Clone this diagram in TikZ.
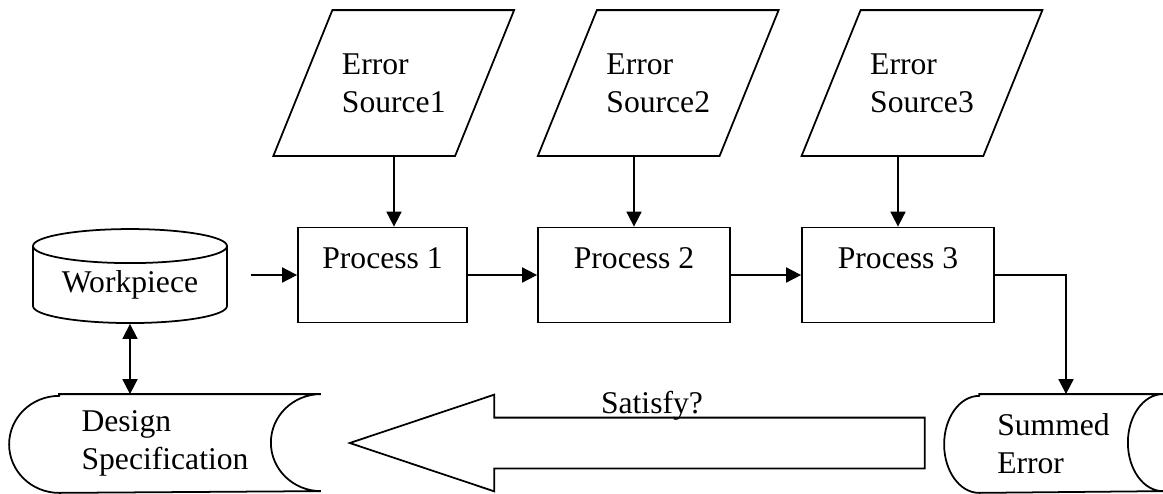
\documentclass[tikz,border=0pt]{standalone}
\usepackage{fontspec}
\setmainfont{Liberation Serif}
\usetikzlibrary{shapes.geometric,shapes.arrows,arrows.meta}

\begin{document}
\begin{tikzpicture}[
    font=\fontsize{18}{21.6}\selectfont,
    line width=1pt,
    >={Triangle[length=3mm,width=3mm]},
    source/.style={rectangle, minimum width=3.6cm, minimum height=2.88cm,
      inner sep=0pt, align=left},
    proc/.style={rectangle, draw, minimum height=1.9cm, inner sep=0pt,
      text height=0.82cm, text depth=1.08cm},
    stock/.style={cylinder, draw, shape border rotate=90, aspect=0.25,
      minimum width=3.88cm, minimum height=1.88cm, inner sep=0pt},
    store/.style={rectangle, minimum height=1.94cm, inner sep=0pt, align=left},
    check/.style={single arrow, draw, shape border rotate=180, minimum height=11.5cm,
      single arrow head extend=0.46cm, single arrow tip angle=37, inner sep=0pt,
      text height=0.49cm, text depth=0.49cm}
  ]
    \useasboundingbox (0,0) rectangle (23.26,9.86);

    % error sources on top, slanted outlines round the text nodes
    \node[source] (es1) at (7.875,8.2) {Error\\Source1};
    \node[source] (es2) at (13.165,8.2) {Error\\Source2};
    \node[source] (es3) at (18.44,8.2) {Error\\Source3};
    \foreach \i in {1,2,3}
      \draw ([xshift=-0.59cm]es\i.south west) -- ([xshift=0.59cm]es\i.north west)
        -- ([xshift=0.59cm]es\i.north east) -- ([xshift=-0.59cm]es\i.south east) -- cycle;

    % process chain
    \node[stock] (wp) at (2.6,4.16) {Workpiece};
    \node[proc, minimum width=3.38cm] (p1) at (7.65,4.36) {Process 1};
    \node[proc, minimum width=3.84cm] (p2) at (12.68,4.36) {Process 2};
    \node[proc, minimum width=3.84cm] (p3) at (17.96,4.36) {Process 3};

    % stored data at the bottom
    \node[store, minimum width=6.2cm] (ds) at (3.3,0.99) {Design\\Specification};
    \node[store, minimum width=4.34cm] (se) at (21.07,0.99) {Summed\\Error};
    \foreach \n/\r in {ds/1.0,se/0.7}
      \draw ([xshift=\r cm]\n.north west) -- (\n.north east)
        arc[start angle=90, end angle=270, x radius=\r, y radius=0.97]
        -- ([xshift=\r cm]\n.south west)
        arc[start angle=270, end angle=90, x radius=\r, y radius=0.97] -- cycle;

    \node[check, anchor=tip] (ok) at (6.94,1.0) {};
    \node[anchor=base] (q) at (13.04,1.6) {Satisfy?};

    \draw[->, shorten <=0.46cm] (p1.west -| wp.east) -- (p1.west);
    \draw[->] (p1.east) -- (p2.west);
    \draw[->] (p2.east) -- (p3.west);
    \draw[->] (p3.east) -| ([xshift=0.25cm]se.north);
    \foreach \i/\dx in {1/0.23,2/0,3/0}
      \draw[->] ([xshift=\dx cm]p\i.north |- es\i.south) -- ([xshift=\dx cm]p\i.north);
    \draw[<->] (wp.south) -- (wp.south |- ds.north);
  \end{tikzpicture}
\end{document}
